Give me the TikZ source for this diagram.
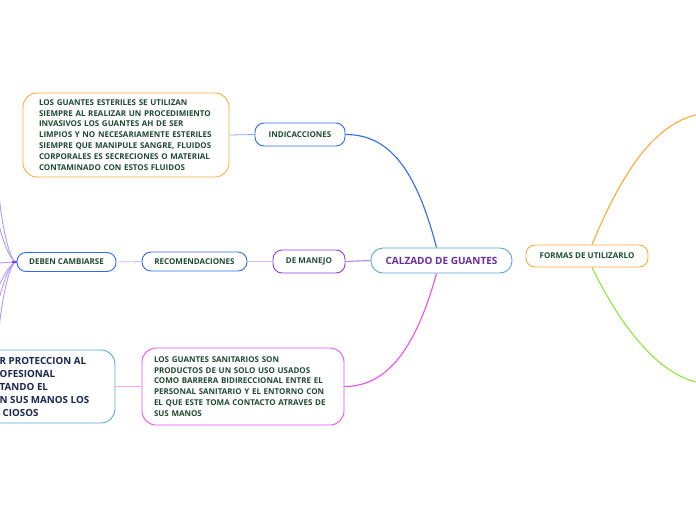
\documentclass[tikz,border=0pt]{standalone}
\usepackage{fontspec}
\setmainfont{Open Sans}

\begin{document}
\begin{tikzpicture}[x=1pt,y=-1pt,
  rama/.style={draw, line width=0.9pt, fill=white, rounded corners=9pt,
    text=txtVerde, font=\bfseries\fontsize{8}{10.9}\selectfont,
    inner sep=0pt, align=center},
  caja/.style={rama, rounded corners=14pt, align=left},
  enlace/.style={line width=1.1pt},
  hilo/.style={line width=0.9pt, moradoMed!85}]

% Colores
\definecolor{txtVerde}{HTML}{1E4A30}
\definecolor{txtAzul}{HTML}{1A2550}
\definecolor{txtMorado}{HTML}{6A2C9A}
\definecolor{bordeCel}{HTML}{5AA6DE}
\definecolor{azul}{HTML}{2F6BF2}
\definecolor{azulClaro}{HTML}{86A9F5}
\definecolor{naranja}{HTML}{FBAA3A}
\definecolor{morado}{HTML}{8A3CF0}
\definecolor{moradoMed}{HTML}{A488F5}
\definecolor{lavanda}{HTML}{CBB8FF}
\definecolor{rosa}{HTML}{EE4FEE}
\definecolor{rosaClaro}{HTML}{F4A6F2}
\definecolor{verde}{HTML}{90E53C}

\useasboundingbox (0,0) rectangle (696,520);
\clip (0,0) rectangle (696,520);

% Nodo central
\node[rama, draw=bordeCel, rounded corners=12pt, minimum width=141, minimum height=25,
  text=txtMorado, font=\bfseries\fontsize{10}{12}\selectfont]
  (calzado) at (441.5,260.5) {CALZADO DE GUANTES};

% Ramas
\node[rama, draw=naranja, minimum width=122, minimum height=22] (formas) at (587,256) {FORMAS DE UTILIZARLO};
\node[rama, draw=azul, minimum width=90, minimum height=23] (indic) at (300,134.5) {INDICACCIONES};
\node[rama, draw=morado, minimum width=72, minimum height=23] (manejo) at (309,261.5) {DE MANEJO};
\node[rama, draw=azul, minimum width=105, minimum height=19] (recom) at (194.5,261.5) {RECOMENDACIONES};
\node[rama, draw=azul, minimum width=99, minimum height=19] (deben) at (66.5,262) {DEBEN CAMBIARSE};

% Cajas de texto
\node[caja, draw=naranja, text width=174, inner xsep=16, minimum height=84] (esteriles) at (126,135)
  {LOS GUANTES ESTERILES SE UTILIZAN\\
   SIEMPRE AL REALIZAR UN PROCEDIMIENTO\\
   INVASIVOS LOS GUANTES AH DE SER\\
   LIMPIOS Y NO NECESARIAMENTE ESTERILES\\
   SIEMPRE QUE MANIPULE SANGRE, FLUIDOS\\
   CORPORALES ES SECRECIONES O MATERIAL\\
   CONTAMINADO CON ESTOS FLUIDOS};

\node[caja, draw=rosa, text width=178, inner xsep=12, minimum height=77] (sanitarios) at (243,386.5)
  {LOS GUANTES SANITARIOS SON\\
   PRODUCTOS DE UN SOLO USO USADOS\\
   COMO BARRERA BIDIRECCIONAL ENTRE EL\\
   PERSONAL SANITARIO Y EL ENTORNO CON\\
   EL QUE ESTE TOMA CONTACTO ATRAVES DE\\
   SUS MANOS};

\node[caja, draw=bordeCel, minimum width=155, minimum height=73] (proteccion) at (37.5,386.5) {};
\node[anchor=west, align=left, inner sep=0pt, text=txtAzul,
  font=\bfseries\fontsize{9.8}{13.2}\selectfont] (protTexto) at (-0.5,387)
  {R PROTECCION AL\\
   OFESIONAL\\
   TANDO EL\\
   N SUS MANOS LOS\\
   \hspace{3pt}CIOSOS};

% Puntos fuera de la hoja
\coordinate (formasArr) at (712,113);
\coordinate (formasAb) at (712,384);
\coordinate (fanA) at (-4,140);
\coordinate (fanB) at (-10,150);
\coordinate (fanC) at (-40,266);
\coordinate (fanD) at (-4,384);
\coordinate (fanE) at (-10,374);
\coordinate (fanF) at (-16,366);

% Enlaces
\draw[enlace, azul] ([xshift=-5pt]calzado.north) .. controls +(-22,-85) and +(40,0) .. (indic.east);
\draw[enlace, rosa] ([xshift=-5pt]calzado.south) .. controls +(-22,80) and +(40,0) .. (sanitarios.east);
\draw[enlace, moradoMed] (calzado.west) -- (manejo.east);
\draw[enlace, lavanda] (manejo.west) -- (recom.east);
\draw[line width=0.8pt, lavanda] (recom.west) -- (deben.east);
\draw[line width=0.8pt, azulClaro] (indic.west) -- (esteriles.east);
\draw[line width=0.8pt, rosaClaro] (sanitarios.west) -- (proteccion.east);
\draw[enlace, naranja] ([xshift=5pt]formas.north) .. controls +(23,-55) and +(-60,0) .. (formasArr);
\draw[enlace, verde] ([xshift=5pt]formas.south) .. controls +(22,45) and +(-55,0) .. (formasAb);

% Abanico de la izquierda
\foreach \f in {fanA,fanB}
  \draw[hilo] (deben.west) .. controls +(-9,0) and +(0,60) .. (\f);
\foreach \f in {fanD,fanE,fanF}
  \draw[hilo] (deben.west) .. controls +(-9,0) and +(0,-60) .. (\f);
\draw[hilo] (deben.west) .. controls +(-15,0) and +(20,0) .. (fanC);
\draw[line width=1.4pt, morado] (deben.west) -- +(-5,0);

\end{tikzpicture}
\end{document}
